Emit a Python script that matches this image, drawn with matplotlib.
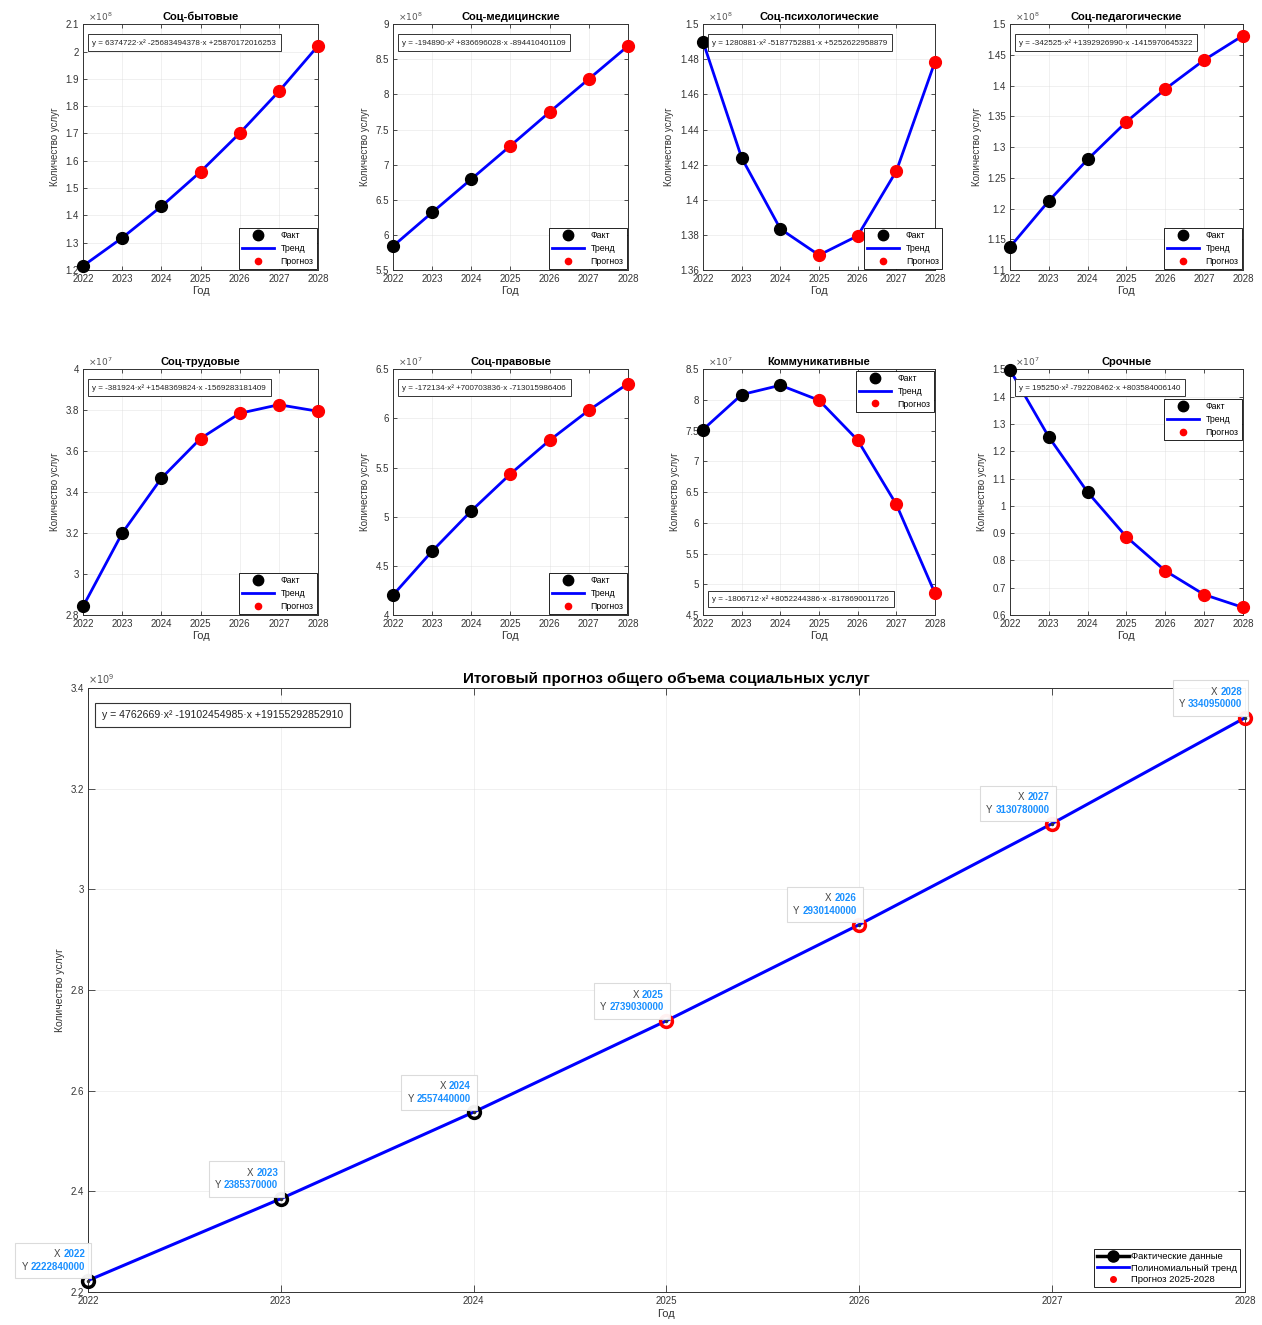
import matplotlib
matplotlib.use("Agg")
import matplotlib.pyplot as plt
from matplotlib.lines import Line2D
from matplotlib.ticker import FuncFormatter, MultipleLocator
from matplotlib.offsetbox import TextArea, HPacker, VPacker, AnnotationBbox

plt.rcParams['font.family'] = ['Liberation Sans', 'DejaVu Sans']

years = [2022, 2023, 2024, 2025, 2026, 2027, 2028]
n_fact = 3  # 2022-2024 fact, 2025-2028 forecast

titles = ["Соц-бытовые", "Соц-медицинские", "Соц-психологические", "Соц-педагогические",
          "Соц-трудовые", "Соц-правовые", "Коммуникативные", "Срочные"]

soc_byt = [1.215e8, 1.318e8, 1.433e8, 1.560e8, 1.701e8, 1.854e8, 2.021e8]
soc_med = [5.84e8, 6.32e8, 6.795e8, 7.27e8, 7.75e8, 8.22e8, 8.69e8]
soc_psy = [1.490e8, 1.4238e8, 1.3834e8, 1.3685e8, 1.3795e8, 1.4164e8, 1.4787e8]
soc_ped = [1.1375e8, 1.2125e8, 1.280e8, 1.3413e8, 1.3946e8, 1.4418e8, 1.4815e8]
soc_trud = [2.842e7, 3.200e7, 3.468e7, 3.662e7, 3.785e7, 3.827e7, 3.795e7]
soc_prav = [4.203e7, 4.650e7, 5.060e7, 5.436e7, 5.778e7, 6.083e7, 6.354e7]
kommun = [7.519e7, 8.088e7, 8.240e7, 7.996e7, 7.346e7, 6.300e7, 4.852e7]
sroch = [1.498e7, 1.252e7, 1.050e7, 0.886e7, 0.762e7, 0.675e7, 0.628e7]

series = [soc_byt, soc_med, soc_psy, soc_ped, soc_trud, soc_prav, kommun, sroch]

equations = [
    "y = 6374722·x² -25683494378·x +25870172016253",
    "y = -194890·x² +836696028·x -894410401109",
    "y = 1280881·x² -5187752881·x +5252622958879",
    "y = -342525·x² +1392926990·x -1415970645322",
    "y = -381924·x² +1548369824·x -1569283181409",
    "y = -172134·x² +700703836·x -713015986406",
    "y = -1806712·x² +8052244386·x -8178690011726",
    "y = 195250·x² -792208462·x +803584006140",
]

exponents = [8, 8, 8, 8, 7, 7, 7, 7]
ylims = [(1.2e8, 2.1e8), (5.5e8, 9e8), (1.36e8, 1.5e8), (1.1e8, 1.5e8),
         (2.8e7, 4e7), (4e7, 6.5e7), (4.5e7, 8.5e7), (0.6e7, 1.5e7)]
ysteps = [0.1e8, 0.5e8, 0.02e8, 0.05e8, 0.2e7, 0.5e7, 0.5e7, 0.1e7]
legend_locs = ["lower right"] * 6 + ["upper right", "upper right"]
legend_anchor = [None, None, (1.035, 0.0), None, None, None, None, (1.0, 0.885)]
eq_top = [True] * 6 + [False, True]

total = [2222840000, 2385370000, 2557440000, 2739030000, 2930140000, 3130780000, 3340950000]

fig = plt.figure(figsize=(12.62, 13.25), dpi=100)

lefts = [0.0658, 0.3114, 0.5571, 0.8003]
widths = [0.1862, 0.1862, 0.1838, 0.1846]
bottoms = [0.7962, 0.5358]
height = 0.1855

GRID_KW = dict(color='#dcdcdc', linewidth=0.6, alpha=0.5)


def make_fmt(exp):
    return FuncFormatter(lambda v, p: "%g" % round(v / 10 ** exp, 6))


def style_axes(ax, fs=7):
    ax.tick_params(direction='in', top=True, right=True, labelsize=fs, length=3,
                   width=0.6, colors='#333333')
    ax.tick_params(axis='x', pad=3)
    ax.tick_params(axis='y', pad=3)
    for s in ax.spines.values():
        s.set_linewidth(0.7)
        s.set_color('#333333')


for i, (vals, title) in enumerate(zip(series, titles)):
    r, c = divmod(i, 4)
    ax = fig.add_axes([lefts[c], bottoms[r], widths[c], height])
    ax.plot(years, vals, color='blue', linewidth=2.0, zorder=2)
    ax.plot(years[:n_fact], vals[:n_fact], 'o', color='black', markersize=8.5, zorder=3,
            clip_on=False)
    ax.plot(years[n_fact:], vals[n_fact:], 'o', color='red', markersize=8.5, zorder=3,
            clip_on=False)
    ax.set_xlim(2022, 2028)
    ax.set_ylim(*ylims[i])
    ax.set_xticks(years)
    ax.yaxis.set_major_locator(MultipleLocator(ysteps[i]))
    ax.yaxis.set_major_formatter(make_fmt(exponents[i]))
    ax.text(0.02, 1.005, r"$\times10^{%d}$" % exponents[i], transform=ax.transAxes,
            fontsize=6.5, color='#555555', ha='left', va='bottom')
    ax.grid(True, **GRID_KW)
    style_axes(ax, 7)
    ax.set_title(title, fontsize=8, fontweight='bold', pad=3)
    ax.set_xlabel("Год", fontsize=8, labelpad=1, color='#333333')
    ax.set_ylabel("Количество услуг", fontsize=7, labelpad=4, color='#333333')
    handles = [
        Line2D([], [], marker='o', color='black', linestyle='none', markersize=7.5),
        Line2D([], [], color='blue', linewidth=2),
        Line2D([], [], marker='o', color='red', linestyle='none', markersize=4.5),
    ]
    kw = dict(loc=legend_locs[i])
    if legend_anchor[i] is not None:
        kw['bbox_to_anchor'] = legend_anchor[i]
    leg = ax.legend(handles, ["Факт", "Тренд", "Прогноз"],
                    fontsize=6.3, fancybox=False, edgecolor='black', framealpha=1,
                    borderpad=0.35, labelspacing=0.45, handlelength=3.6,
                    handletextpad=0.8, borderaxespad=0.15, **kw)
    leg.get_frame().set_linewidth(0.6)
    ypos = 0.925 if eq_top[i] else 0.065
    ax.text(0.04, ypos, equations[i], transform=ax.transAxes, fontsize=5.8,
            va='center', ha='left', zorder=5, color='#222222',
            bbox=dict(boxstyle='square,pad=0.55', fc='white', ec='#333333', lw=0.7))

# Bottom summary plot
axb = fig.add_axes([0.0697, 0.0249, 0.9168, 0.4558])
axb.plot(years, total, color='blue', linewidth=2.2, zorder=2)
axb.plot(years[:n_fact], total[:n_fact], 'o', mfc='none', mec='black', mew=2.5,
         markersize=8.5, zorder=3, clip_on=False)
axb.plot(years[n_fact:], total[n_fact:], 'o', mfc='none', mec='red', mew=2.5,
         markersize=8.5, zorder=3, clip_on=False)
axb.plot(years, total, '.', color='#333333', markersize=3, zorder=4, clip_on=False)
axb.set_xlim(2022, 2028)
axb.set_ylim(2.2e9, 3.4e9)
axb.set_xticks(years)
axb.yaxis.set_major_locator(MultipleLocator(0.2e9))
axb.yaxis.set_major_formatter(make_fmt(9))
axb.text(0.0, 1.003, r"$\times10^{9}$", transform=axb.transAxes,
         fontsize=7, color='#555555', ha='left', va='bottom')
axb.grid(True, **GRID_KW)
style_axes(axb, 7)
axb.tick_params(length=5)
axb.set_title("Итоговый прогноз общего объема социальных услуг", fontsize=11,
              fontweight='bold', pad=4)
axb.set_xlabel("Год", fontsize=8, labelpad=2, color='#333333')
axb.set_ylabel("Количество услуг", fontsize=7.5, labelpad=4, color='#333333')

axb.text(0.012, 0.955, "y = 4762669·x² -19102454985·x +19155292852910",
         transform=axb.transAxes, fontsize=7.6, va='center', ha='left', zorder=5,
         color='#222222',
         bbox=dict(boxstyle='square,pad=0.65', fc='white', ec='#333333', lw=0.8))

tip_blue = '#1a90ff'
for x, y in zip(years, total):
    row1 = HPacker(children=[TextArea("X ", textprops=dict(color='#444444', fontsize=7)),
                             TextArea(str(x), textprops=dict(color=tip_blue, fontsize=7,
                                                             fontweight='bold'))],
                   align='baseline', pad=0, sep=0)
    row2 = HPacker(children=[TextArea("Y ", textprops=dict(color='#444444', fontsize=7)),
                             TextArea(str(y), textprops=dict(color=tip_blue, fontsize=7,
                                                             fontweight='bold'))],
                   align='baseline', pad=0, sep=0)
    box = VPacker(children=[row1, row2], align='right', pad=0, sep=2)
    ab = AnnotationBbox(box, (x, y), xybox=(-2, 6), xycoords='data',
                        boxcoords='offset points', box_alignment=(1, 0),
                        frameon=True, pad=0.45, zorder=6, annotation_clip=False,
                        bboxprops=dict(fc='white', ec='#d9d9d9', lw=0.8, alpha=0.95))
    axb.add_artist(ab)

hb = [
    Line2D([], [], color='black', linewidth=2.5, marker='o', markersize=8),
    Line2D([], [], color='blue', linewidth=2),
    Line2D([], [], marker='o', color='red', linestyle='none', markersize=4),
]
legb = axb.legend(hb, ["Фактические данные", "Полиномиальный тренд", "Прогноз 2025-2028"],
                  loc='lower right', fontsize=6.8, fancybox=False, edgecolor='black',
                  framealpha=1, borderpad=0.35, labelspacing=0.25, handlelength=3.4,
                  handletextpad=0.2, borderaxespad=0.5)
legb.get_frame().set_linewidth(0.6)

fig.savefig("out.png", dpi=100)
